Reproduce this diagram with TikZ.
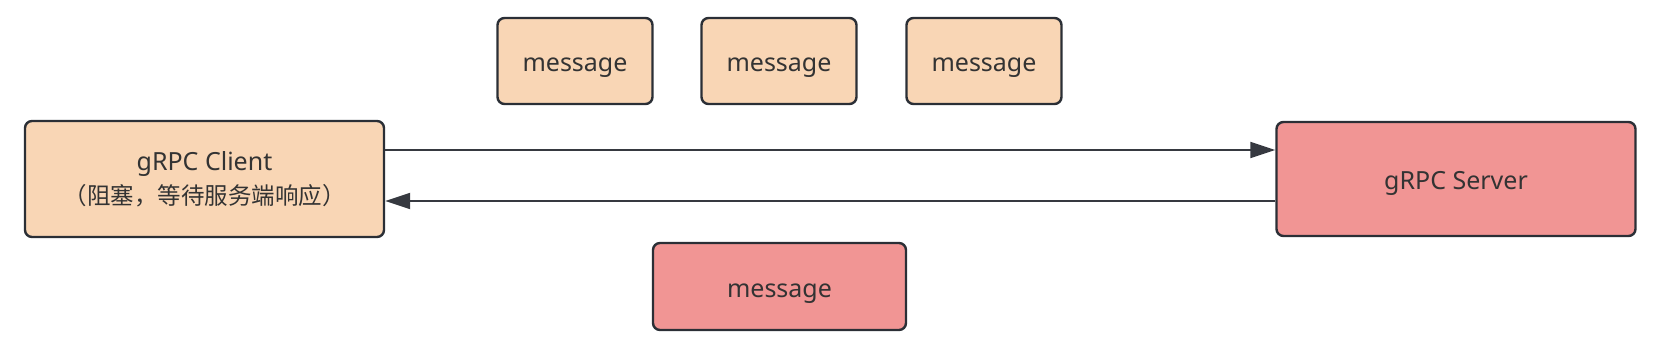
\documentclass[tikz,border=0pt]{standalone}
\usepackage{fontspec}
\setmainfont{Noto Sans}
\newfontfamily\cjk{Noto Sans CJK SC}
\usetikzlibrary{arrows.meta}
\definecolor{peach}{HTML}{F9D6B5}
\definecolor{rosy}{HTML}{F19594}
\definecolor{edge}{HTML}{2B2F36}
\definecolor{txt}{HTML}{333333}
\tikzset{
  box/.style={draw=edge, line width=2.4pt, rounded corners=7pt, inner sep=0pt,
    text=txt, font=\fontsize{25}{34}\selectfont},
  oneline/.style={text height=25pt, text depth=4pt},
  peachbox/.style={box, fill=peach},
  rosebox/.style={box, fill=rosy},
  arr/.style={draw=edge!95!white, line width=2pt, -{Triangle[length=25pt,width=16pt]}}
}
\begin{document}
\begin{tikzpicture}[x=1pt,y=-1pt]
\useasboundingbox (0,0) rectangle (1666,350);
\node[peachbox, align=center, minimum width=359pt, minimum height=116pt] (client) at (204.5,179) {\rule{0pt}{0pt}\raisebox{-2pt}{gRPC Client}\\{\cjk\fontsize{23.5}{34}\selectfont \raisebox{-2pt}{（阻塞，等待服务端响应）}}};
\node[rosebox, oneline, minimum width=359pt, minimum height=114pt] (server) at (1456,179) {gRPC Server};
\node[peachbox, oneline, minimum width=155pt, minimum height=86pt] (m1) at (575,61) {message};
\node[peachbox, oneline, minimum width=155pt, minimum height=86pt] (m2) at (779,61) {message};
\node[peachbox, oneline, minimum width=155pt, minimum height=86pt] (m3) at (984,61) {message};
\node[rosebox, oneline, minimum width=253pt, minimum height=87pt] (m4) at (779.5,286.5) {message};
\draw[arr] ([yshift=29pt]client.east) -- ([yshift=29pt]server.west);
\draw[arr] ([yshift=-22pt]server.west) -- ([yshift=-22pt]client.east);
\end{tikzpicture}
\end{document}
